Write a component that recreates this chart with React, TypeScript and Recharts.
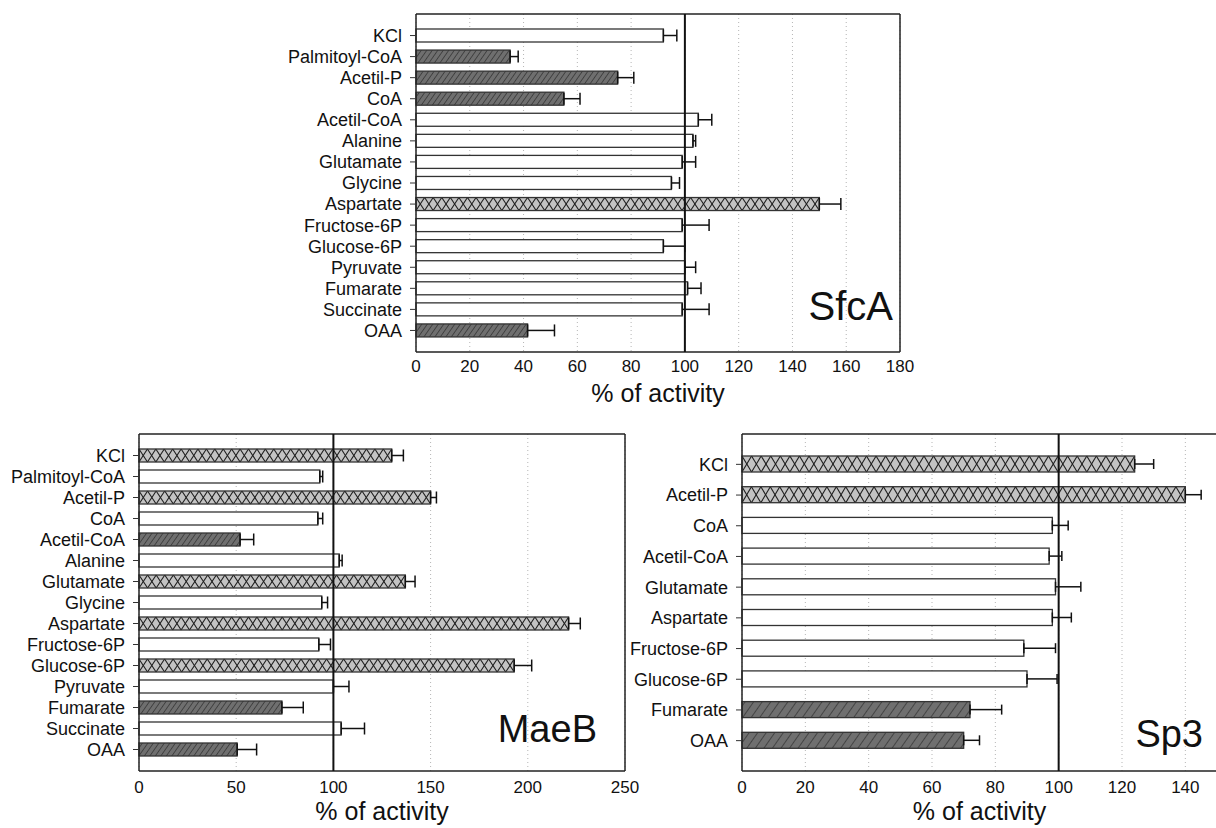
import * as React from "react";
import {
  BarChart,
  Bar,
  XAxis,
  YAxis,
  CartesianGrid,
  ReferenceLine,
  ErrorBar,
} from "recharts";

const FONT = '"Liberation Sans", Arial, Helvetica, sans-serif';

// effect: "none" = no change, "down" = inhibitor, "up" = activator
const sfcaLabels = [
  "KCl", "Palmitoyl-CoA", "Acetil-P", "CoA", "Acetil-CoA", "Alanine", "Glutamate",
  "Glycine", "Aspartate", "Fructose-6P", "Glucose-6P", "Pyruvate", "Fumarate",
  "Succinate", "OAA",
];
const sfcaValues = [92, 35, 75, 55, 105, 103, 99, 95, 150, 99, 92, 100, 101, 99, 41.5];
const sfcaErrors = [5, 3, 6, 6, 5, 1, 5, 3, 8, 10, 8, 4, 5, 10, 10];
const sfcaEffects = [
  "none", "down", "down", "down", "none", "none", "none", "none", "up", "none",
  "none", "none", "none", "none", "down",
];
const sfcaTicks = [0, 20, 40, 60, 80, 100, 120, 140, 160, 180];

const maebLabels = sfcaLabels;
const maebValues = [130, 93, 150, 92, 52, 103, 137, 94, 221, 92.5, 193, 100, 73.5, 104, 50.5];
const maebErrors = [6, 1.5, 3, 2.5, 7, 1.5, 5, 3, 6, 6, 9, 8, 11, 12, 10];
const maebEffects = [
  "up", "none", "up", "none", "down", "none", "up", "none", "up", "none", "up",
  "none", "down", "none", "down",
];
const maebTicks = [0, 50, 100, 150, 200, 250];

const sp3Labels = [
  "KCl", "Acetil-P", "CoA", "Acetil-CoA", "Glutamate", "Aspartate", "Fructose-6P",
  "Glucose-6P", "Fumarate", "OAA",
];
const sp3Values = [124, 140, 98, 97, 99, 98, 89, 90, 72, 70];
const sp3Errors = [6, 5, 5, 4, 8, 6, 10, 9.5, 10, 5];
const sp3Effects = ["up", "up", "none", "none", "none", "none", "none", "none", "down", "down"];
const sp3Ticks = [0, 20, 40, 60, 80, 100, 120, 140];

function rows(labels: string[], values: number[], errors: number[], effects: string[]) {
  return labels.map((name, i) => ({
    name,
    value: values[i],
    err: [0, errors[i]],
    effect: effects[i],
  }));
}

function makeShape(crossW: number, hatchId: string) {
  return (props: any) => {
    const { x, y, width, height, payload } = props;
    if (!width || width <= 0) return <g />;
    if (payload.effect === "up") {
      const n = Math.max(1, Math.round(width / crossW));
      const cw = width / n;
      const lines: React.ReactNode[] = [];
      for (let i = 0; i < n; i++) {
        const x0 = x + i * cw;
        lines.push(<line key={"a" + i} x1={x0} y1={y} x2={x0 + cw} y2={y + height} />);
        lines.push(<line key={"b" + i} x1={x0} y1={y + height} x2={x0 + cw} y2={y} />);
      }
      return (
        <g>
          <rect x={x} y={y} width={width} height={height} fill="#c3c3c3" />
          <g stroke="#1e1e1e" strokeWidth={1.1}>{lines}</g>
          <rect x={x} y={y} width={width} height={height} fill="none" stroke="#333" strokeWidth={1.3} />
        </g>
      );
    }
    const fill = payload.effect === "down" ? `url(#${hatchId})` : "#fff";
    return <rect x={x} y={y} width={width} height={height} fill={fill} stroke="#333" strokeWidth={1.3} />;
  };
}

type PanelProps = {
  data: any[];
  title: string;
  ticks: number[];
  max: number;
  width: number;
  height: number;
  yWidth: number;
  marginTop: number;
  marginRight: number;
  xHeight: number;
  pad: number;
  barSize: number;
  crossW: number;
  hatchId: string;
  capW: number;
  tickGap: number;
  labelOffset: number;
  titleSize: number;
  titleDx: number;
  titleDy: number;
};

const frame = { stroke: "#222", strokeWidth: 1.5 };

// top and bottom edges of the plot box
const edgeRows = ({ offset }: any) => [offset.top, offset.top + offset.height];

function Panel(p: PanelProps) {
  return (
    <BarChart
      width={p.width}
      height={p.height}
      data={p.data}
      layout="vertical"
      margin={{ top: p.marginTop, right: p.marginRight, left: 0, bottom: 0 }}
    >
      <CartesianGrid horizontal={false} stroke="#b5b5b5" strokeDasharray="1 3" />
      <CartesianGrid vertical={false} horizontalCoordinatesGenerator={edgeRows} {...frame} />
      <XAxis
        type="number"
        domain={[0, p.max]}
        ticks={p.ticks}
        interval={0}
        height={p.xHeight}
        axisLine={false}
        tickLine={false}
        tickSize={0}
        tickMargin={p.tickGap}
        tick={{ fontSize: 17, fill: "#111", fontFamily: FONT }}
        label={{
          value: "% of activity",
          position: "insideBottom",
          offset: p.labelOffset,
          style: { fontSize: 25, fill: "#111", fontFamily: FONT },
        }}
      />
      <YAxis
        type="category"
        dataKey="name"
        width={p.yWidth}
        interval={0}
        axisLine={false}
        tickSize={6}
        tickMargin={8}
        tickLine={{ stroke: "#333" }}
        padding={{ top: p.pad, bottom: p.pad }}
        tick={{ fontSize: 18, fill: "#111", fontFamily: FONT }}
      />
      <ReferenceLine x={0} {...frame} />
      <ReferenceLine
        x={p.max}
        {...frame}
        ifOverflow="visible"
        label={(lp: any) => {
          const vb = lp.viewBox;
          return (
            <text
              x={vb.x - p.titleDx}
              y={vb.y + vb.height - p.titleDy}
              textAnchor="end"
              fontSize={p.titleSize}
              fill="#111"
              fontFamily={FONT}
            >
              {p.title}
            </text>
          );
        }}
      />
      <Bar dataKey="value" barSize={p.barSize} isAnimationActive={false} shape={makeShape(p.crossW, p.hatchId)}>
        <ErrorBar dataKey="err" direction="x" width={p.capW} stroke="#111" strokeWidth={1.5} isAnimationActive={false} />
      </Bar>
      <ReferenceLine x={100} stroke="#111" strokeWidth={2} />
    </BarChart>
  );
}

export default function App() {
  const sfca = rows(sfcaLabels, sfcaValues, sfcaErrors, sfcaEffects);
  const maeb = rows(maebLabels, maebValues, maebErrors, maebEffects);
  const sp3 = rows(sp3Labels, sp3Values, sp3Errors, sp3Effects);

  return (
    <div
      style={{
        position: "absolute",
        left: 0,
        top: 0,
        width: 1216,
        height: 828,
        overflow: "hidden",
        background: "#fff",
        fontFamily: FONT,
      }}
    >
      <svg width={0} height={0} style={{ position: "absolute" }}>
        <defs>
          <pattern id="hatchSmall" width={4.5} height={4.5} patternUnits="userSpaceOnUse" patternTransform="rotate(35)">
            <rect width={4.5} height={4.5} fill="#6f6f6f" />
            <line x1={0} y1={0} x2={0} y2={4.5} stroke="#262626" strokeWidth={1.2} />
          </pattern>
          <pattern id="hatchLarge" width={7} height={7} patternUnits="userSpaceOnUse" patternTransform="rotate(35)">
            <rect width={7} height={7} fill="#6f6f6f" />
            <line x1={0} y1={0} x2={0} y2={7} stroke="#262626" strokeWidth={1.2} />
          </pattern>
        </defs>
      </svg>

      <div style={{ position: "absolute", left: 0, top: 0 }}>
        <Panel
          data={sfca}
          title="SfcA"
          ticks={sfcaTicks}
          max={180}
          width={940}
          height={415}
          yWidth={416}
          marginTop={14}
          marginRight={40}
          xHeight={63}
          pad={11}
          barSize={13}
          crossW={8.5}
          hatchId="hatchSmall"
          capW={6}
          tickGap={8}
          labelOffset={13}
          titleSize={40}
          titleDx={7}
          titleDy={32}
        />
      </div>

      <div style={{ position: "absolute", left: 0, top: 420 }}>
        <Panel
          data={maeb}
          title="MaeB"
          ticks={maebTicks}
          max={250}
          width={660}
          height={411}
          yWidth={139}
          marginTop={14}
          marginRight={35}
          xHeight={60}
          pad={11}
          barSize={13}
          crossW={8.5}
          hatchId="hatchSmall"
          capW={6}
          tickGap={10}
          labelOffset={11}
          titleSize={38}
          titleDx={28}
          titleDy={29}
        />
      </div>

      <div style={{ position: "absolute", left: 600, top: 420 }}>
        <Panel
          data={sp3}
          title="Sp3"
          ticks={sp3Ticks}
          max={150}
          width={640}
          height={411}
          yWidth={142}
          marginTop={14}
          marginRight={23}
          xHeight={60}
          pad={15}
          barSize={16}
          crossW={9.5}
          hatchId="hatchLarge"
          capW={5}
          tickGap={10}
          labelOffset={11}
          titleSize={38}
          titleDx={14}
          titleDy={24}
        />
      </div>
    </div>
  );
}
